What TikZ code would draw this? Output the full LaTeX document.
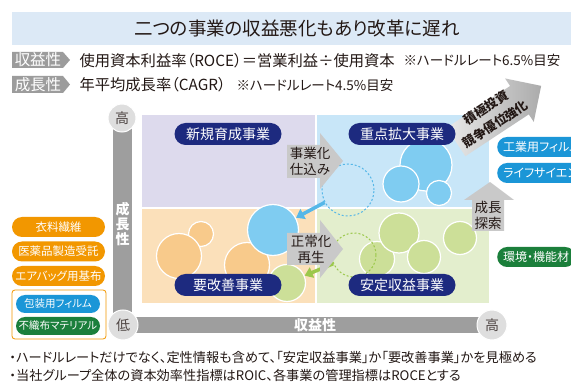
\documentclass[tikz,border=0pt]{standalone}
\usepackage{fontspec}
\setmainfont{Noto Sans CJK JP}[RawFeature=+palt]
\usetikzlibrary{arrows.meta}

\definecolor{titleband}{HTML}{DCE9F6}
\definecolor{labelgray}{HTML}{9C9C9C}
\definecolor{axisgray}{HTML}{9E9E9E}
\definecolor{capgray}{HTML}{DEDEDE}
\definecolor{quadTL}{HTML}{DDDAED}
\definecolor{quadTR}{HTML}{C8E6F8}
\definecolor{quadBL}{HTML}{FBE0BA}
\definecolor{quadBR}{HTML}{E3EECD}
\definecolor{bubblue}{HTML}{7FCCF1}
\definecolor{bubpeach}{HTML}{F8CA8B}
\definecolor{bubgreen}{HTML}{CCDF98}
\definecolor{navy}{HTML}{1D2A7F}
\definecolor{arrowgray}{HTML}{C9C9C9}
\definecolor{tagorange}{HTML}{F29700}
\definecolor{tagblue}{HTML}{1B96D7}
\definecolor{taggreen}{HTML}{1B7F3B}
\definecolor{lineblue}{HTML}{56B7E8}
\definecolor{linegreen}{HTML}{9CC84B}
\definecolor{ink}{HTML}{231815}

\begin{document}
\begin{tikzpicture}[x=1pt,y=-1pt,
  pill/.style={rectangle, rounded corners=11pt, fill=navy, text=white,
    font=\fontsize{14}{14}\selectfont, minimum height=22pt, minimum width=107pt, inner sep=0pt},
  tag/.style={rectangle, rounded corners=10pt, text=white,
    font=\fontsize{11.5}{12}\selectfont, minimum height=20pt, minimum width=93pt, inner sep=0pt},
  smalltag/.style={tag, rounded corners=9pt, minimum height=18pt, minimum width=84pt,
    font=\fontsize{10.5}{11}\selectfont},
  bub/.style={circle, draw=white, line width=1.2pt, inner sep=0pt},
  dashbub/.style={circle, dash pattern=on 2pt off 2pt, line width=1pt, inner sep=0pt},
  axiscap/.style={circle, fill=capgray, draw=white, line width=1pt, text=ink!80,
    inner sep=0pt, font=\fontsize{14}{14}\selectfont},
  arrowtext/.style={align=center, text=ink, font=\fontsize{13.5}{16}\selectfont},
  slanttext/.style={rotate=33.4, inner sep=0pt, text=ink, font=\bfseries\fontsize{12.5}{13}\selectfont},
  rowlabel/.style={text=white, font=\fontsize{15.5}{16}\selectfont},
  rowtext/.style={anchor=west, text=ink, font=\fontsize{15.3}{16}\selectfont},
  rownote/.style={anchor=west, text=ink, font=\fontsize{13.5}{14}\selectfont}]
\useasboundingbox (0,0) rectangle (571,382);
\fill[white] (0,0) rectangle (571,382);
% Drawing title and definitions
\fill[titleband] (12,12) rectangle (571,45);
\node[text=ink, font=\fontsize{18.5}{19}\selectfont] (title) at (297,28.5) {二つの事業の収益悪化もあり改革に遅れ};
\fill[labelgray] (12,52) -- (63,52) -- (70,60) -- (63,68) -- (12,68) -- cycle;
\node[rowlabel] (roce) at (38,60) {収益性};
\node[rowtext] (roceeq) at (76,60.5) {使用資本利益率（ROCE）＝営業利益÷使用資本};
\node[rownote] (rocenote) at (400,60.5) {※ハードルレート6.5\%目安};
\fill[labelgray] (12,76) -- (63,76) -- (70,84.5) -- (63,93) -- (12,93) -- cycle;
\node[rowlabel] (cagr) at (38,84.5) {成長性};
\node[rowtext] (cagreq) at (76,85) {年平均成長率（CAGR）};
\node[rownote] (cagrnote) at (233,85) {※ハードルレート4.5\%目安};
% Drawing quadrants
\fill[quadTL] (142,115) rectangle (314.5,207.5);
\fill[quadTR] (316.5,115) rectangle (489,207.5);
\fill[quadBL] (142,209.5) rectangle (314.5,303);
\fill[quadBR] (316.5,209.5) rectangle (489,303);
% Drawing axes
\fill[axisgray] (113,125) rectangle (132,318);
\fill[axisgray] (125,317) rectangle (482,333);
\node[align=center, text=white, font=\bfseries\fontsize{14}{15}\selectfont] (growth) at (122.5,224) {成\\長\\性};
\node[text=white, font=\bfseries\fontsize{14}{14}\selectfont] (profit) at (315,325) {収益性};
\node[axiscap, minimum size=28pt] (hightop) at (122,118) {高};
\node[axiscap, minimum size=30pt] (low) at (123,325) {低};
\node[axiscap, minimum size=30pt] (highright) at (492,325) {高};
% Drawing bubbles
\node[bub, fill=bubblue, minimum size=52pt] (core1) at (426,165) {};
\node[bub, fill=bubblue, minimum size=36pt] (core2) at (401,184) {};
\node[bub, fill=bubblue, minimum size=25pt] (core3) at (439,193) {};
\node[bub, fill=bubpeach, minimum size=25pt] (fix2) at (201,234) {};
\node[bub, fill=bubpeach, minimum size=45pt] (fix1) at (179,256) {};
\node[bub, fill=bubpeach, minimum size=45pt] (fix3) at (247,265) {};
\node[bub, fill=bubblue, minimum size=51pt] (fixblue) at (273,230) {};
\node[bub, fill=bubgreen, minimum size=37pt] (fixgreen) at (287,283) {};
\node[bub, fill=bubgreen, minimum size=35pt] (stable2) at (377,259) {};
\node[bub, fill=bubgreen, minimum size=40pt] (stable1) at (399,233) {};
\node[bub, fill=bubgreen, minimum size=33pt] (stable3) at (424,257) {};
\node[bub, fill=bubgreen, minimum size=33pt] (stable4) at (460,238) {};
\node[dashbub, draw=lineblue, minimum size=52pt] (newdash) at (348,190) {};
\node[dashbub, draw=linegreen, minimum size=44pt] (okdash) at (354,255) {};
% Drawing movement arrows
\draw[line width=3.5pt, lineblue, -{Triangle[length=8pt,width=11pt]}] (newdash) -- (fixblue);
\draw[line width=3.5pt, linegreen, -{Triangle[length=8pt,width=11pt]}] (okdash) -- (fixgreen);
\fill[arrowgray] (287,145) -- (320,145) -- (320,133) -- (343,161) -- (320,189) -- (320,178) -- (287,178) -- cycle;
\node[arrowtext] (prep) at (310,161) {事業化\\仕込み};
\fill[arrowgray] (287,233) -- (320,233) -- (320,220) -- (343,249) -- (320,278) -- (320,265) -- (287,265) -- cycle;
\node[arrowtext] (revive) at (311,249) {正常化\\再生};
\fill[arrowgray] (472,231) -- (472,200) -- (464,200) -- (490,182) -- (514,200) -- (504,200) -- (504,231) -- cycle;
\node[arrowtext] (explore) at (488,215) {成長\\探索};
\begin{scope}[shift={(456,142)}, rotate=33.4]
\shade[left color=arrowgray!40, right color=arrowgray!85!black] (0,-17) -- (76,-17) -- (76,-26) -- (102,0) -- (76,26) -- (76,17) -- (0,17) -- cycle;
\end{scope}
\node[slanttext] (invest) at (486,107.5) {積極投資};
\node[slanttext] (compete) at (495.5,124) {競争優位強化};
% Drawing quadrant labels
\node[pill] (grow) at (228,134) {新規育成事業};
\node[pill] (core) at (402,134) {重点拡大事業};
\node[pill] (fix) at (228,285) {要改善事業};
\node[pill] (stable) at (402,285) {安定収益事業};
% Drawing business tags
\node[tag, fill=tagorange] (apparel) at (58.5,227) {衣料繊維};
\node[tag, fill=tagorange] (pharma) at (58.5,251.5) {医薬品製造受託};
\node[tag, fill=tagorange] (airbag) at (58.5,276) {エアバッグ用基布};
\draw[tagorange, rounded corners=3pt, line width=0.8pt] (12,290) rectangle (106,339);
\node[smalltag, fill=tagblue] (pack) at (58,304) {包装用フィルム};
\node[smalltag, fill=taggreen] (nonwoven) at (58,326) {不織布マテリアル};
\begin{scope}
\clip (0,0) rectangle (571,382);
\node[tag, fill=tagblue, anchor=west, inner xsep=6pt, minimum width=0pt, font=\fontsize{12}{12}\selectfont] (film) at (497,147) {工業用フィルム};
\node[tag, fill=tagblue, anchor=west, inner xsep=6pt, minimum width=0pt, font=\fontsize{12}{12}\selectfont] (life) at (497,173) {ライフサイエンス};
\node[tag, fill=taggreen, anchor=west, inner xsep=6pt, minimum width=0pt, font=\fontsize{12}{12}\selectfont] (enviro) at (497,257) {環境・機能材};
\end{scope}
% Drawing footnotes
\node[anchor=west, text=ink, font=\fontsize{13.2}{14}\selectfont] (note1) at (6,357) {・ハードルレートだけでなく、定性情報も含めて、「安定収益事業」か「要改善事業」かを見極める};
\node[anchor=west, text=ink, font=\fontsize{13.2}{14}\selectfont] (note2) at (6,375) {・当社グループ全体の資本効率性指標はROIC、各事業の管理指標はROCEとする};
\end{tikzpicture}
\end{document}
